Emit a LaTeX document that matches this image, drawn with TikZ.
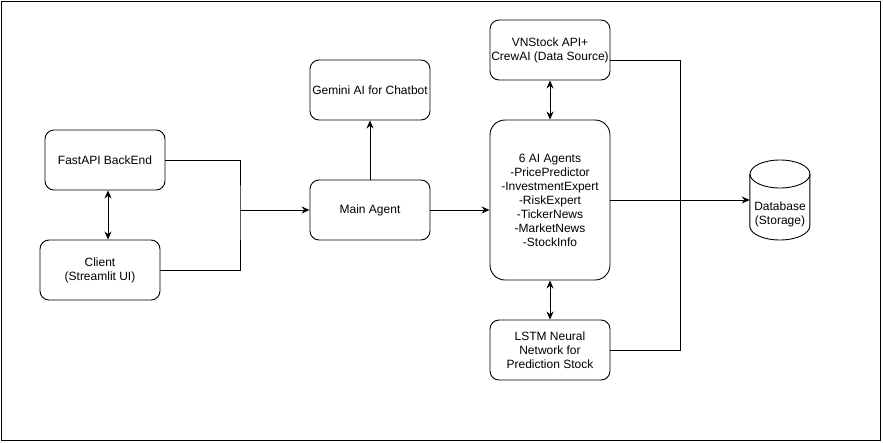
\documentclass[tikz,border=0pt]{standalone}
\usepackage{fontspec}
\setmainfont{Liberation Sans}
\usetikzlibrary{arrows.meta}
\tikzstyle{comp_box}=[rectangle,draw,rounded corners=9pt,line width=0.9pt,minimum width=120pt,minimum height=60pt,align=center,inner sep=0pt,font=\fontsize{12}{14}\selectfont]
\tikzstyle{flow}=[line width=0.9pt,-{Stealth[length=8pt,width=7pt]}]
\tikzstyle{both}=[line width=0.9pt,{Stealth[length=8pt,width=7pt]}-{Stealth[length=8pt,width=7pt]}]

\begin{document}
\begin{tikzpicture}[x=1pt,y=-1pt]
\useasboundingbox (0,0) rectangle (883,442);
\draw[line width=0.9pt] (1,1) rectangle (880,440);
% left side
\node (fastapi) at (105,160)[comp_box] {FastAPI BackEnd};
\node (client) at (100,270)[comp_box] {Client\\(Streamlit UI)};
\draw[both] ([xshift=3pt]fastapi.south) -- ([xshift=8pt]client.north);
% middle
\node (main) at (370,210)[comp_box] {Main Agent};
\node (gemini) at (370,90)[comp_box] {Gemini AI for Chatbot};
\coordinate (join) at (240,210);
\draw[line width=0.9pt] (fastapi.east) -| (join) |- (client.east);
\draw[flow] (join) -- (main.west);
\draw[flow] (main.north) -- (gemini.south);
% agents column
\node (vnstock) at (550,50)[comp_box] {VNStock API+\\CrewAI (Data Source)};
\node (agents) at (550,200)[comp_box,minimum height=160pt,rounded corners=15pt] {6 AI Agents\\-PricePredictor\\-InvestmentExpert\\-RiskExpert\\-TickerNews\\-MarketNews\\-StockInfo};
\node (lstm) at (550,350)[comp_box] {LSTM Neural\\Network for\\Prediction Stock};
\draw[flow] (main.east) -- (main.east -| agents.west);
\draw[both] (vnstock.south) -- (agents.north);
\draw[both] (agents.south) -- (lstm.north);
\coordinate (rbus) at (680,350);
\draw[line width=0.9pt] ([yshift=-10pt]vnstock.east) -| (rbus) -- (lstm.east);
% database
\node (db) at (780,200)[minimum width=60pt,minimum height=80pt,inner sep=0pt] {};
\draw[line width=0.9pt] (db.west) ++(0,-26) -- ++(0,52) arc[start angle=180,end angle=0,x radius=30,y radius=14] -- ++(0,-52);
\draw[line width=0.9pt] (780,174) ellipse[x radius=30,y radius=14];
\node (dbtext) at (780,214)[align=center,font=\fontsize{12}{14}\selectfont] {Database\\(Storage)};
\draw[flow] (agents.east) -- (db.west);
\end{tikzpicture}
\end{document}
